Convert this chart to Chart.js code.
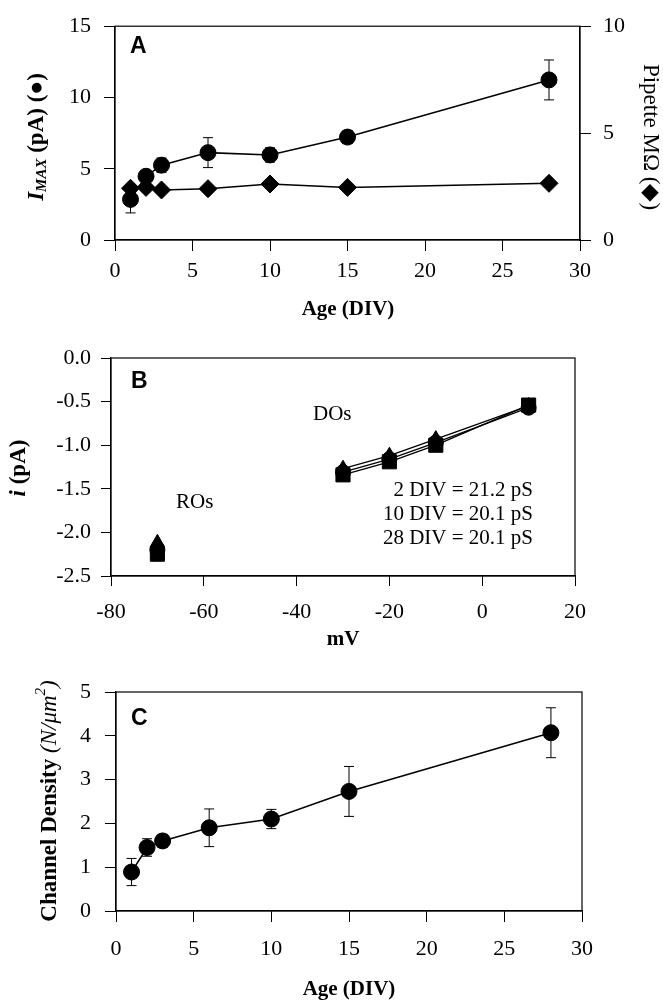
<!DOCTYPE html>
<html>
<head>
<meta charset="utf-8">
<script src="https://cdn.jsdelivr.net/npm/chart.js@4.4.1/dist/chart.umd.min.js"></script>
<style>
  html, body { margin: 0; padding: 0; background: #fff; }
  #wrap { position: relative; width: 663px; height: 1003px; }
  canvas { position: absolute; left: 0; }
</style>
</head>
<body>
<div id="wrap">
  <canvas id="chartA" width="663" height="330" style="top:0"></canvas>
  <canvas id="chartB" width="663" height="330" style="top:330px"></canvas>
  <canvas id="chartC" width="663" height="353" style="top:650px"></canvas>
</div>
<script>
// panel A : I max and pipette resistance vs age
const ageDays   = [1, 2, 3, 6, 10, 15, 28];
const imaxMean  = [2.85, 4.47, 5.25, 6.13, 5.97, 7.22, 11.23];
const imaxErr   = [0.95, 0.15, 0.5, 1.05, 0.5, 0.45, 1.4];
const pipetteMO = [2.42, 2.46, 2.34, 2.40, 2.62, 2.46, 2.65];

// panel B : single channel i-V
const doVolts  = [-30, -20, -10, 10];
const roVolts  = [-70];
const do2div   = [-1.27, -1.12, -0.93, -0.55];
const do10div  = [-1.31, -1.16, -0.97, -0.57];
const do28div  = [-1.34, -1.19, -1.00, -0.54];
const ro2div   = [-2.12];
const ro10div  = [-2.20];
const ro28div  = [-2.25];
const slopeNotes = ['2 DIV = 21.2 pS', '10 DIV = 20.1 pS', '28 DIV = 20.1 pS'];

// panel C : channel density vs age
const densMean = [0.89, 1.45, 1.60, 1.90, 2.10, 2.73, 4.07];
const densErr  = [0.31, 0.2, 0.15, 0.43, 0.22, 0.57, 0.57];

const SERIF = "'Liberation Serif', 'Times New Roman', serif";
const SANS  = "'Liberation Sans', Arial, sans-serif";

function pts(xs, ys) {
  return xs.map((x, i) => ({ x: x, y: ys[i] }));
}

const errorBars = {
  id: 'errorBars',
  beforeDatasetsDraw(chart) {
    const ctx = chart.ctx;
    chart.data.datasets.forEach((ds, i) => {
      if (!ds.errors) return;
      const meta = chart.getDatasetMeta(i);
      const ys = chart.scales[meta.yAxisID];
      ctx.save();
      ctx.strokeStyle = '#000';
      ctx.lineWidth = 1;
      ds.data.forEach((p, j) => {
        const x = meta.data[j].x;
        const top = ys.getPixelForValue(p.y + ds.errors[j]);
        const bot = ys.getPixelForValue(p.y - ds.errors[j]);
        ctx.beginPath();
        ctx.moveTo(x, top); ctx.lineTo(x, bot);
        ctx.moveTo(x - 5, top); ctx.lineTo(x + 5, top);
        ctx.moveTo(x - 5, bot); ctx.lineTo(x + 5, bot);
        ctx.stroke();
      });
      ctx.restore();
    });
  }
};

const frame = {
  id: 'frame',
  beforeDatasetsDraw(chart) {
    const a = chart.chartArea;
    const ctx = chart.ctx;
    ctx.save();
    ctx.strokeStyle = '#000';
    ctx.lineWidth = 1.2;
    ctx.strokeRect(a.left, a.top, a.right - a.left, a.bottom - a.top);
    ctx.restore();
  }
};

// draws text made of several runs (italic, subscript ...)
const texts = {
  id: 'texts',
  afterDraw(chart, args, opts) {
    const ctx = chart.ctx;
    (opts.items || []).forEach(item => {
      ctx.save();
      ctx.translate(item.x, item.y);
      if (item.rot) ctx.rotate(item.rot * Math.PI / 180);
      ctx.textBaseline = 'middle';
      ctx.textAlign = 'left';
      ctx.fillStyle = '#000';
      let total = 0;
      item.runs.forEach(r => { ctx.font = r.font; total += ctx.measureText(r.t).width; });
      let cx = item.align === 'right' ? -total : item.align === 'left' ? 0 : -total / 2;
      item.runs.forEach(r => {
        ctx.font = r.font;
        ctx.fillText(r.t, cx, r.dy || 0);
        cx += ctx.measureText(r.t).width;
      });
      ctx.restore();
    });
  }
};

function axis(opt) {
  return {
    type: 'linear',
    position: opt.position,
    min: opt.min,
    max: opt.max,
    border: { display: true, color: '#000', width: 1.2 },
    grid: { drawOnChartArea: false, drawTicks: true, tickLength: opt.tick || 11, color: '#000', lineWidth: 1 },
    ticks: {
      stepSize: opt.step,
      padding: opt.pad,
      color: '#000',
      maxRotation: 0,
      autoSkip: false,
      font: { family: SERIF, size: 22 },
      callback: opt.fmt || (v => v)
    },
    afterFit(s) {
      if (opt.width) s.width = opt.width;
      if (opt.height) s.height = opt.height;
    }
  };
}

function baseOptions(padding, items, scales) {
  return {
    responsive: false,
    animation: false,
    layout: { padding: padding },
    plugins: {
      legend: { display: false },
      tooltip: { enabled: false },
      texts: { items: items }
    },
    scales: scales
  };
}

function line(data, style, radius, yAxisID, extra) {
  return Object.assign({
    data: data,
    showLine: true,
    borderColor: '#000',
    backgroundColor: '#000',
    borderWidth: 1.5,
    pointStyle: style,
    pointRadius: radius,
    pointBorderWidth: 1,
    yAxisID: yAxisID || 'y'
  }, extra || {});
}

// ---- A ----
new Chart(document.getElementById('chartA'), {
  type: 'scatter',
  data: {
    datasets: [
      line(pts(ageDays, imaxMean), 'circle', 8, 'y', { errors: imaxErr }),
      line(pts(ageDays, pipetteMO), 'rectRot', 9, 'y2')
    ]
  },
  options: baseOptions({ top: 24, left: 0, right: 0, bottom: 0 }, [
    { x: 130, y: 47, align: 'left', runs: [{ t: 'A', font: 'bold 23px ' + SANS }] },
    { x: 37, y: 137, rot: -90, runs: [
      { t: 'I', font: 'italic bold 23px ' + SERIF },
      { t: 'MAX', font: 'italic bold 15px ' + SERIF, dy: 5 },
      { t: ' (pA) (\u25CF)', font: 'bold 23px ' + SERIF }
    ] },
    { x: 650, y: 137, rot: 90, runs: [{ t: 'Pipette M\u03A9 (\u25C6)', font: '23px ' + SERIF }] },
    { x: 348, y: 310, runs: [{ t: 'Age (DIV)', font: 'bold 21px ' + SERIF }] }
  ], {
    x: axis({ position: 'bottom', min: 0, max: 30, step: 5, pad: 7, height: 90 }),
    y: axis({ position: 'left', min: 0, max: 15, step: 5, pad: 13, width: 115 }),
    y2: axis({ position: 'right', min: 0, max: 10, step: 5, pad: 12, width: 83 })
  }),
  plugins: [frame, errorBars, texts]
});

// ---- B ----
const fmtB = v => v.toFixed(1);
new Chart(document.getElementById('chartB'), {
  type: 'scatter',
  data: {
    datasets: [
      line(pts(doVolts, do2div), 'triangle', 8.5, 'y', { borderWidth: 1.3 }),
      line(pts(doVolts, do10div), 'circle', 7.5, 'y', { borderWidth: 1.3 }),
      line(pts(doVolts, do28div), 'rect', 10, 'y', { borderWidth: 1.3 }),
      line(pts(roVolts, ro2div), 'triangle', 8.5, 'y', { showLine: false }),
      line(pts(roVolts, ro10div), 'circle', 7.5, 'y', { showLine: false }),
      line(pts(roVolts, ro28div), 'rect', 10, 'y', { showLine: false })
    ]
  },
  options: baseOptions({ top: 28, left: 0, right: 88, bottom: 0 }, [
    { x: 131, y: 52, align: 'left', runs: [{ t: 'B', font: 'bold 23px ' + SANS }] },
    { x: 19, y: 138, rot: -90, runs: [
      { t: 'i', font: 'italic bold 23px ' + SERIF },
      { t: ' (pA)', font: 'bold 23px ' + SERIF }
    ] },
    { x: 343, y: 310, runs: [{ t: 'mV', font: 'bold 21px ' + SERIF }] },
    { x: 313, y: 84, align: 'left', runs: [{ t: 'DOs', font: '21px ' + SERIF }] },
    { x: 176, y: 172, align: 'left', runs: [{ t: 'ROs', font: '21px ' + SERIF }] },
    { x: 533, y: 160, align: 'right', runs: [{ t: slopeNotes[0], font: '21px ' + SERIF }] },
    { x: 533, y: 184, align: 'right', runs: [{ t: slopeNotes[1], font: '21px ' + SERIF }] },
    { x: 533, y: 208, align: 'right', runs: [{ t: slopeNotes[2], font: '21px ' + SERIF }] }
  ], {
    x: axis({ position: 'bottom', min: -80, max: 20, step: 20, pad: 13, tick: 10, height: 84 }),
    y: axis({ position: 'left', min: -2.5, max: 0, step: 0.5, pad: 10, tick: 10, width: 111, fmt: fmtB })
  }),
  plugins: [frame, texts]
});

// ---- C ----
new Chart(document.getElementById('chartC'), {
  type: 'scatter',
  data: {
    datasets: [
      line(pts(ageDays, densMean), 'circle', 8, 'y', { errors: densErr })
    ]
  },
  options: baseOptions({ top: 42, left: 0, right: 81, bottom: 0 }, [
    { x: 131, y: 69, align: 'left', runs: [{ t: 'C', font: 'bold 23px ' + SANS }] },
    { x: 50, y: 151, rot: -90, runs: [
      { t: 'Channel Density ', font: 'bold 23px ' + SERIF },
      { t: '(N/\u03BCm', font: 'italic 23px ' + SERIF },
      { t: '2', font: 'italic 15px ' + SERIF, dy: -9 },
      { t: ')', font: 'italic 23px ' + SERIF }
    ] },
    { x: 349, y: 340, runs: [{ t: 'Age (DIV)', font: 'bold 21px ' + SERIF }] }
  ], {
    x: axis({ position: 'bottom', min: 0, max: 30, step: 5, pad: 14, height: 92 }),
    y: axis({ position: 'left', min: 0, max: 5, step: 1, pad: 14, width: 116 })
  }),
  plugins: [frame, errorBars, texts]
});
</script>
</body>
</html>
